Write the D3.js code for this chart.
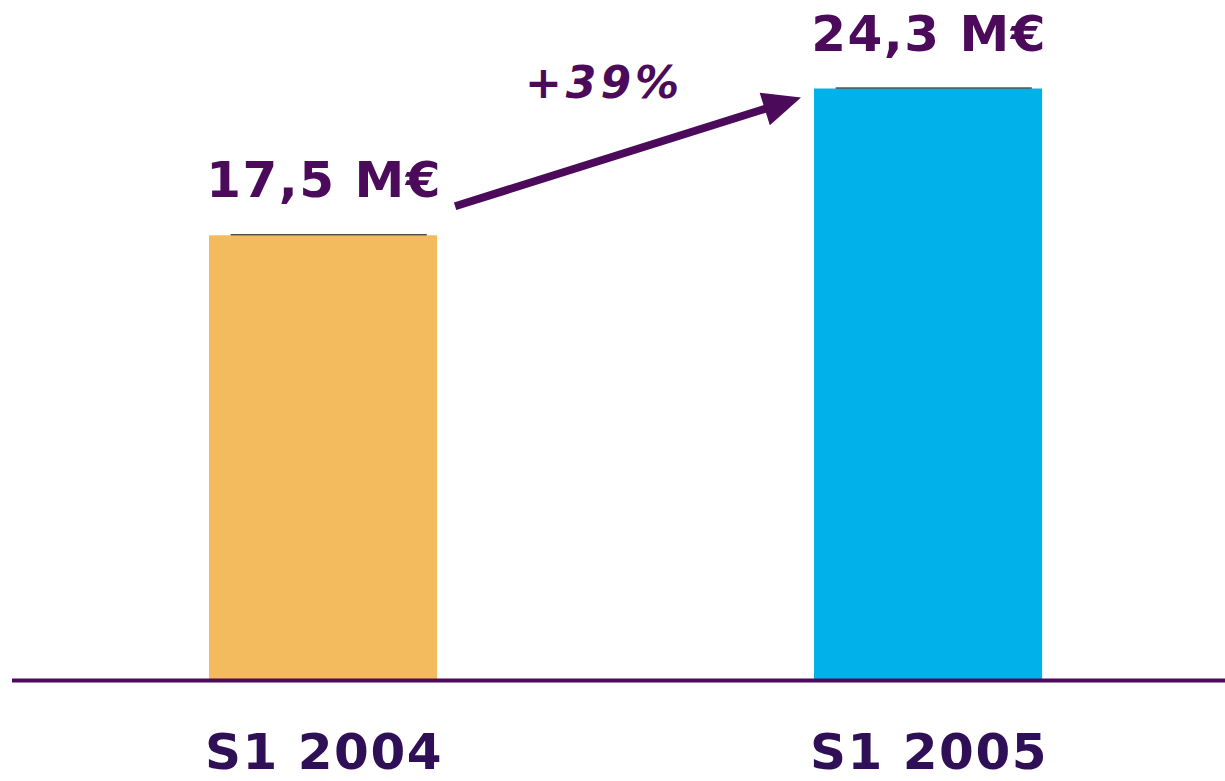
<!DOCTYPE html>
<html>
<head>
<meta charset="utf-8">
<script src="https://cdn.jsdelivr.net/npm/d3@7"></script>
<style>
  html, body { margin: 0; padding: 0; background: #ffffff; }
  svg { display: block; }
</style>
</head>
<body>
<script>
const categories = ["S1 2004", "S1 2005"];
const values = [17.5, 24.3];
const valueLabels = ["17,5 M€", "24,3 M€"];
const growthLabel = "+39%";
const barColors = ["#F3BA5E", "#00B2E9"];

const W = 1225, H = 781;
const svg = d3.select("body").append("svg").attr("width", W).attr("height", H);

const x = d3.scaleBand().domain(categories).range([27.5, 1223.6])
  .paddingInner(0.623).paddingOuter(0.3);
const y = d3.scaleLinear().domain([-3.1, 28.4]).range([680, 0]);

const purple = "#4B0A5A";
const font = "'DejaVu Sans', Verdana, sans-serif";

// bars
svg.selectAll("rect.bar").data(categories).join("rect")
  .attr("class", "bar")
  .attr("x", d => x(d))
  .attr("width", x.bandwidth())
  .attr("y", (d, i) => y(values[i]))
  .attr("height", (d, i) => y.range()[0] - y(values[i]))
  .attr("fill", (d, i) => barColors[i]);

// thin dark line on top of bars
svg.selectAll("line.top").data(categories).join("line")
  .attr("class", "top")
  .attr("x1", d => x(d) + x.bandwidth() * 0.095)
  .attr("x2", d => x(d) + x.bandwidth() * 0.955)
  .attr("y1", (d, i) => y(values[i]) - 0.5)
  .attr("y2", (d, i) => y(values[i]) - 0.5)
  .attr("stroke", "#000").attr("stroke-width", 1);

// baseline axis
svg.append("line")
  .attr("x1", 12).attr("x2", W)
  .attr("y1", y.range()[0] + 0.5).attr("y2", y.range()[0] + 0.5)
  .attr("stroke", purple).attr("stroke-width", 4);

// value labels
svg.selectAll("text.val").data(categories).join("text")
  .attr("class", "val")
  .attr("x", d => x(d) + x.bandwidth() / 2 + 1)
  .attr("y", (d, i) => y(values[i]) - 38)
  .attr("text-anchor", "middle")
  .attr("font-family", font).attr("font-weight", "bold")
  .attr("font-size", 50).attr("letter-spacing", 1.5)
  .attr("fill", purple)
  .text((d, i) => valueLabels[i]);

// category labels
svg.selectAll("text.cat").data(categories).join("text")
  .attr("class", "cat")
  .attr("x", d => x(d) + x.bandwidth() / 2 + 1)
  .attr("y", 769)
  .attr("text-anchor", "middle")
  .attr("font-family", font).attr("font-weight", "bold")
  .attr("font-size", 50).attr("letter-spacing", 1.5)
  .attr("fill", "#2F0F56")
  .text(d => d);

// growth arrow
const x0 = x(categories[0]) + x.bandwidth() + 18;
const y0 = y(values[0]) - 29;
const x1 = x(categories[1]) - 13;
const y1 = y(values[1]) + 9;
const ang = Math.atan2(y1 - y0, x1 - x0);
const headLen = 38, headHalf = 17;
const bx = x1 - headLen * Math.cos(ang), by = y1 - headLen * Math.sin(ang);
svg.append("line")
  .attr("x1", x0).attr("y1", y0)
  .attr("x2", bx + 4 * Math.cos(ang)).attr("y2", by + 4 * Math.sin(ang))
  .attr("stroke", purple).attr("stroke-width", 8);
const px = -Math.sin(ang), py = Math.cos(ang);
svg.append("path")
  .attr("d", `M${x1},${y1} L${bx + px * headHalf},${by + py * headHalf} L${bx - px * headHalf},${by - py * headHalf} Z`)
  .attr("fill", purple);

svg.append("text")
  .attr("x", (x0 + x1) / 2 - 24)
  .attr("y", 98)
  .attr("text-anchor", "middle")
  .attr("font-family", font).attr("font-weight", "bold").attr("font-style", "italic")
  .attr("font-size", 44).attr("letter-spacing", 4)
  .attr("fill", purple)
  .text(growthLabel);
</script>
</body>
</html>
